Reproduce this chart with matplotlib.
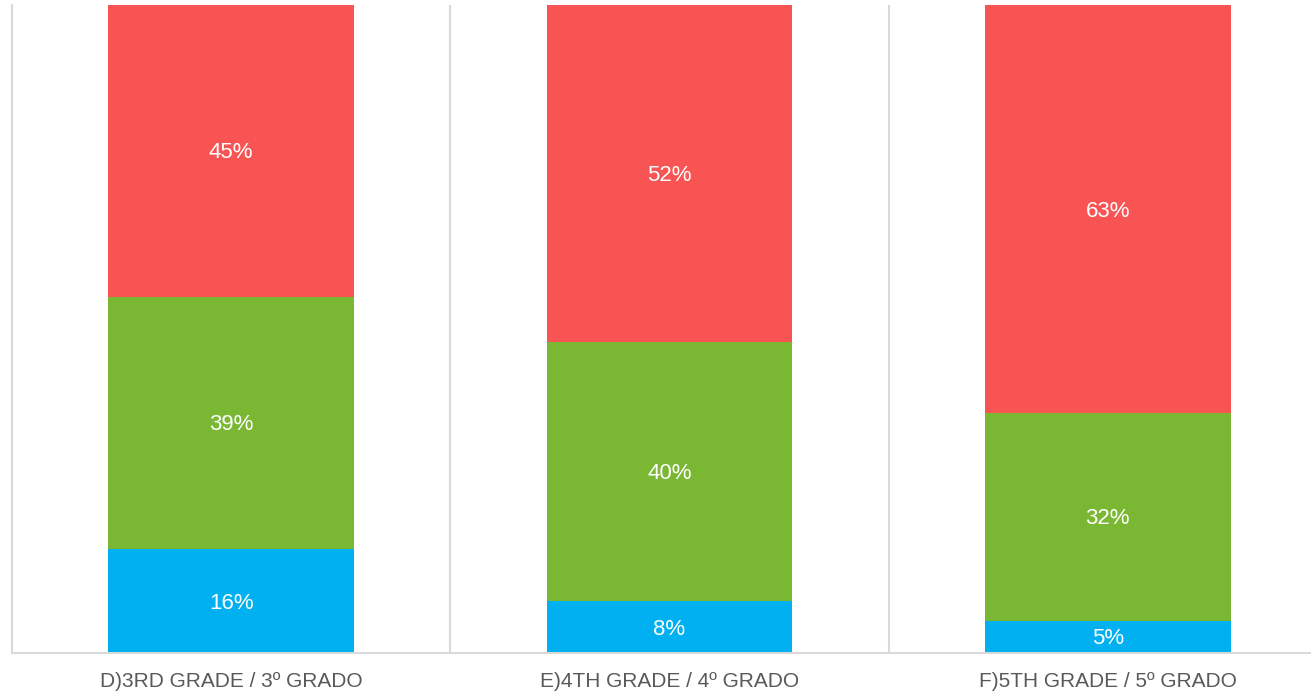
import matplotlib
matplotlib.use("Agg")
import matplotlib.pyplot as plt
import numpy as np

categories = ["D)3RD GRADE / 3º GRADO", "E)4TH GRADE / 4º GRADO", "F)5TH GRADE / 5º GRADO"]
blue_vals = [16, 8, 5]
green_vals = [39, 40, 32]
red_vals = [45, 52, 63]

plt.rcParams['font.family'] = ['Liberation Sans', 'DejaVu Sans']

W, H = 1311, 693
fig = plt.figure(figsize=(W / 100, H / 100), dpi=100)
ax = fig.add_axes([12 / W, (H - 653) / H, (1327 - 12) / W, (653 - 5) / H])

x = np.arange(len(categories))
bw = 0.56
series = [(blue_vals, "#00B0F0"), (green_vals, "#7AB733"), (red_vals, "#F85454")]
bottom = np.zeros(len(categories))
for vals, col in series:
    vals = np.array(vals, dtype=float)
    ax.bar(x, vals, bw, bottom=bottom, color=col, linewidth=0, zorder=2)
    for xi, b, v in zip(x, bottom, vals):
        ax.text(xi, b + v / 2 - 0.3, f"{int(v)}%", ha="center", va="center",
                color="white", fontsize=16, zorder=3)
    bottom += vals

ax.set_xlim(-0.5, len(categories) - 0.5)
ax.set_ylim(0, 100)
for sep in np.arange(0.5, len(categories) - 0.5, 1.0):
    ax.axvline(sep, color="#D9D9D9", linewidth=1.5, zorder=1)

for s in ["top", "right"]:
    ax.spines[s].set_visible(False)
ax.spines["left"].set_color("#D9D9D9")
ax.spines["left"].set_linewidth(1.5)
ax.spines["bottom"].set_color("#D9D9D9")
ax.spines["bottom"].set_linewidth(1.5)

ax.set_yticks([])
ax.set_xticks(x)
ax.set_xticklabels(categories, fontsize=15, color="#595959")
ax.tick_params(axis="x", length=0, pad=14)

fig.savefig("out.png", dpi=100)
